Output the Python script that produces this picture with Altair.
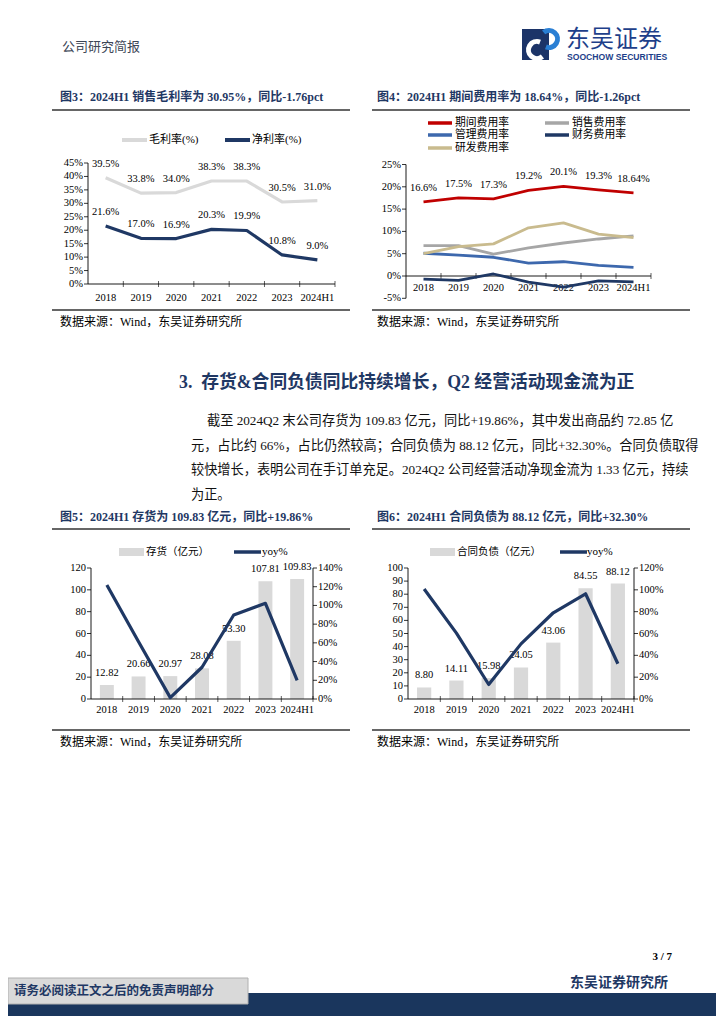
import altair as alt
import pandas as pd

OX, OY = 8, 8  # page margin
SERIF = "Liberation Serif, Noto Sans CJK SC"
NAVY = "#1f3864"

cats = ["2018", "2019", "2020", "2021", "2022", "2023", "2024H1"]

# Fig 3
gross_margin = [39.5, 33.8, 34.0, 38.3, 38.3, 30.5, 31.0]
net_margin = [21.6, 17.0, 16.9, 20.3, 19.9, 10.8, 9.0]
fig3_ticks = [0, 5, 10, 15, 20, 25, 30, 35, 40, 45]

# Fig 4
period_rate = [16.6, 17.5, 17.3, 19.2, 20.1, 19.3, 18.64]
sales_rate = [6.8, 6.8, 4.9, 6.3, 7.4, 8.3, 9.0]
admin_rate = [5.1, 4.7, 4.2, 2.9, 3.2, 2.4, 1.95]
fin_rate = [-0.7, -1.0, 0.45, -1.35, -2.5, -1.1, -1.3]
rd_rate = [5.0, 6.6, 7.2, 10.8, 11.9, 9.4, 8.6]
fig4_ticks = [-5, 0, 5, 10, 15, 20, 25]

# Fig 5
inventory = [12.82, 20.66, 20.97, 28.08, 53.30, 107.81, 109.83]
inventory_yoy = [121.8, 61.2, 1.5, 33.9, 89.8, 102.3, 19.86]
fig5_left_ticks = [0, 20, 40, 60, 80, 100, 120]
fig5_right_ticks = [0, 20, 40, 60, 80, 100, 120, 140]

# Fig 6
contract_liab = [8.80, 14.11, 15.98, 24.05, 43.06, 84.55, 88.12]
contract_yoy = [100.8, 60.3, 13.3, 50.5, 79.0, 96.4, 32.30]
fig6_left_ticks = [0, 10, 20, 30, 40, 50, 60, 70, 80, 90, 100]
fig6_right_ticks = [0, 20, 40, 60, 80, 100, 120]

paragraph = [
    "截至 2024Q2 末公司存货为 109.83 亿元，同比+19.86%，其中发出商品约 72.85 亿",
    "元，占比约 66%，占比仍然较高；合同负债为 88.12 亿元，同比+32.30%。合同负债取得",
    "较快增长，表明公司在手订单充足。2024Q2 公司经营活动净现金流为 1.33 亿元，持续",
    "为正。",
]

ONE = pd.DataFrame({"a": [0]})
layers = []


def px(x):
    return x - OX


def py(y):
    return y - OY


def T(s, x, y, size=12, color="#000000", bold=False, align="left", font=SERIF):
    layers.append(
        alt.Chart(pd.DataFrame({"t": [s]}))
        .mark_text(align=align, baseline="middle", fontSize=size, color=color,
                   fontWeight="bold" if bold else "normal", font=font)
        .encode(x=alt.value(px(x)), y=alt.value(py(y)), text="t:N")
    )


def R(x1, y1, x2, y2, color="#000000", w=1.0):
    layers.append(
        alt.Chart(ONE).mark_rule(color=color, strokeWidth=w)
        .encode(x=alt.value(px(x1)), y=alt.value(py(y1)),
                x2=alt.value(px(x2)), y2=alt.value(py(y2)))
    )


def B(x1, y1, x2, y2, fill, stroke=None, sw=0):
    kw = dict(color=fill)
    if stroke:
        kw.update(stroke=stroke, strokeWidth=sw)
    layers.append(
        alt.Chart(ONE).mark_rect(**kw)
        .encode(x=alt.value(px(x1)), y=alt.value(py(y1)),
                x2=alt.value(px(x2)), y2=alt.value(py(y2)))
    )


def xpoint(x0, x1):
    return alt.Scale(type="point", domain=cats, range=[px(x0), px(x1)], padding=0.5)


def xband(x0, x1, pi=0.56):
    return alt.Scale(type="band", domain=cats, range=[px(x0), px(x1)],
                     paddingInner=pi, paddingOuter=pi / 2)


def xbound(x0, x1):
    return alt.Scale(type="band", domain=cats, range=[px(x0), px(x1)],
                     paddingInner=0, paddingOuter=0)


def yscale(d0, d1, y0, y1):
    return alt.Scale(domain=[d0, d1], range=[py(y0), py(y1)], nice=False, zero=False)


def line(df, field, xs, ys, color, w=3.0):
    layers.append(
        alt.Chart(df).mark_line(color=color, strokeWidth=w, strokeJoin="round")
        .encode(x=alt.X("cat:N", scale=xs, axis=None),
                y=alt.Y(f"{field}:Q", scale=ys, axis=None))
    )


def labels(df, field, lbl, xs, ys, dy=-13, size=10.5):
    layers.append(
        alt.Chart(df).mark_text(dy=dy, fontSize=size, font=SERIF, color="#000000",
                                baseline="middle")
        .encode(x=alt.X("cat:N", scale=xs, axis=None),
                y=alt.Y(f"{field}:Q", scale=ys, axis=None),
                text=f"{lbl}:N")
    )


def y_axis(ticks, ys, xaxis, side, suffix, fmt_size=10.5):
    d = pd.DataFrame({"v": ticks, "l": [f"{t}{suffix}" for t in ticks]})
    if side == "left":
        tx1, tx2, lx, al = xaxis - 4, xaxis, xaxis - 5, "right"
    else:
        tx1, tx2, lx, al = xaxis, xaxis + 4, xaxis + 5, "left"
    layers.append(
        alt.Chart(d).mark_rule(color="#000000", strokeWidth=0.8)
        .encode(y=alt.Y("v:Q", scale=ys, axis=None),
                x=alt.value(px(tx1)), x2=alt.value(px(tx2)))
    )
    layers.append(
        alt.Chart(d).mark_text(align=al, baseline="middle", fontSize=fmt_size,
                               font=SERIF, color="#000000")
        .encode(y=alt.Y("v:Q", scale=ys, axis=None), x=alt.value(px(lx)), text="l:N")
    )
    layers.append(
        alt.Chart(pd.DataFrame({"v": [ticks[0], ticks[-1]]}))
        .mark_line(color="#000000", strokeWidth=0.9)
        .encode(y=alt.Y("v:Q", scale=ys, axis=None), x=alt.value(px(xaxis)))
    )


def x_axis(xs_bound, xs_pt, x0, x1, yline_scale, yval, ylabel, size=10.5):
    layers.append(
        alt.Chart(pd.DataFrame({"v": [yval]})).mark_rule(color="#000000", strokeWidth=0.9)
        .encode(y=alt.Y("v:Q", scale=yline_scale, axis=None),
                x=alt.value(px(x0)), x2=alt.value(px(x1)))
    )
    d = pd.DataFrame({"cat": cats, "v": [yval] * len(cats)})
    layers.append(
        alt.Chart(d).mark_tick(color="#000000", thickness=0.9, size=6, orient="vertical")
        .encode(x=alt.X("cat:N", scale=xs_bound, axis=None, bandPosition=1),
                y=alt.Y("v:Q", scale=yline_scale, axis=None))
    )
    layers.append(
        alt.Chart(pd.DataFrame({"cat": cats})).mark_text(baseline="middle", fontSize=size,
                                                         font=SERIF, color="#000000")
        .encode(x=alt.X("cat:N", scale=xs_pt, axis=None), y=alt.value(py(ylabel)), text="cat:N")
    )


# ---------------- Header ----------------
T("公司研究简报", 62, 47, size=13, color="#3c4656")
B(522, 29, 549, 60, "#1c3468")
layers.append(alt.Chart(ONE).mark_arc(color="#2a7fd4", radius=11, radius2=6, theta=5.6, theta2=9.8)
              .encode(x=alt.value(px(549)), y=alt.value(py(39))))
layers.append(alt.Chart(ONE).mark_arc(color="#ffffff", radius=11, radius2=6, theta=2.45, theta2=6.65)
              .encode(x=alt.value(px(537)), y=alt.value(py(50))))
T("东吴证券", 566, 40, size=24, color="#1e3f8a", font="Noto Sans CJK SC")
T("SOOCHOW SECURITIES", 567, 57, size=8.6, color="#1e3f8a", bold=True, font="Liberation Sans")

# ---------------- Figure titles (top row) ----------------
T("图3：2024H1 销售毛利率为 30.95%，同比-1.76pct", 60, 97, size=12, color=NAVY, bold=True)
T("图4：2024H1 期间费用率为 18.64%，同比-1.26pct", 377, 97, size=12, color=NAVY, bold=True)
R(52, 110, 350, 110, "#333333", 1.5)
R(372, 110, 690, 110, "#333333", 1.5)

# ---------------- Figure 3 ----------------
X3 = xpoint(88, 335)
XB3 = xbound(88, 335)
Y3 = yscale(0, 45, 284, 163)
df3 = pd.DataFrame({"cat": cats, "gross": gross_margin, "net": net_margin,
                    "gl": [f"{v:.1f}%" for v in gross_margin],
                    "nl": [f"{v:.1f}%" for v in net_margin]})
R(122, 140, 147, 140, "#d9d9d9", 4)
T("毛利率(%)", 149, 140, size=11)
R(225, 140, 250, 140, NAVY, 4)
T("净利率(%)", 252, 140, size=11)
y_axis(fig3_ticks, Y3, 88, "left", "%")
x_axis(XB3, X3, 88, 335, Y3, 0, 298)
line(df3, "gross", X3, Y3, "#d9d9d9", 3.2)
line(df3, "net", X3, Y3, NAVY, 3.2)
labels(df3, "gross", "gl", X3, Y3, dy=-14)
labels(df3, "net", "nl", X3, Y3, dy=-14)
R(52, 310, 350, 310, "#333333", 1.5)
T("数据来源：Wind，东吴证券研究所", 60, 322, size=12)

# ---------------- Figure 4 ----------------
X4 = xpoint(406, 651)
XB4 = xbound(406, 651)
Y4 = yscale(-5, 25, 298.3, 164.5)
df4 = pd.DataFrame({"cat": cats, "period": period_rate, "sales": sales_rate,
                    "admin": admin_rate, "fin": fin_rate, "rd": rd_rate,
                    "pl": [f"{v}%" for v in period_rate]})
legend4 = [("期间费用率", "#c00000", 428, 123), ("销售费用率", "#a6a6a6", 545, 123),
           ("管理费用率", "#3d68ad", 428, 135), ("财务费用率", NAVY, 545, 135),
           ("研发费用率", "#c9bb8e", 428, 148)]
for name, col, lx, ly in legend4:
    R(lx, ly, lx + 24, ly, col, 3.5)
    T(name, lx + 27, ly, size=10.8)
y_axis(fig4_ticks, Y4, 406, "left", "%")
line(df4, "sales", X4, Y4, "#a6a6a6", 2.8)
line(df4, "admin", X4, Y4, "#3d68ad", 2.8)
line(df4, "rd", X4, Y4, "#c9bb8e", 2.8)
line(df4, "period", X4, Y4, "#c00000", 2.8)
x_axis(XB4, X4, 406, 651, Y4, 0, 288)
line(df4, "fin", X4, Y4, NAVY, 2.8)
labels(df4, "period", "pl", X4, Y4, dy=-14)
R(372, 310, 690, 310, "#333333", 1.5)
T("数据来源：Wind，东吴证券研究所", 377, 322, size=12)

# ---------------- Section text ----------------
T("3.\u00a0\u00a0存货&合同负债同比持续增长，Q2 经营活动现金流为正", 179, 383, size=17.8,
  color=NAVY, bold=True)
for i, s in enumerate(paragraph):
    T(s, 207 if i == 0 else 191, 421 + i * 24.7, size=13.2, color="#111111")

# ---------------- Bottom titles ----------------
T("图5：2024H1 存货为 109.83 亿元，同比+19.86%", 60, 517, size=12, color=NAVY, bold=True)
T("图6：2024H1 合同负债为 88.12 亿元，同比+32.30%", 377, 517, size=12, color=NAVY, bold=True)
R(52, 529, 350, 529, "#333333", 1.5)
R(372, 529, 690, 529, "#333333", 1.5)


def bar_fig(values, yoy, left_ticks, right_ticks, x0, x1, bar_name, leg):
    XP = xpoint(x0, x1)
    XB = xband(x0, x1)
    XBD = xbound(x0, x1)
    YL = yscale(left_ticks[0], left_ticks[-1], 699, 568)
    YR = yscale(right_ticks[0], right_ticks[-1], 699, 568)
    df = pd.DataFrame({"cat": cats, "v": values, "y": yoy,
                       "vl": [f"{v:.2f}" for v in values]})
    rx0, tx, lx0, ltx = leg
    B(rx0, 548, rx0 + 25, 556, "#d9d9d9")
    T(bar_name, tx, 552, size=10.5)
    R(lx0, 552, lx0 + 27, 552, NAVY, 3.5)
    T("yoy%", ltx, 552, size=11)
    layers.append(
        alt.Chart(df).mark_bar(color="#d9d9d9")
        .encode(x=alt.X("cat:N", scale=XB, axis=None),
                y=alt.Y("v:Q", scale=YL, axis=None))
    )
    labels(df, "v", "vl", XP, YL, dy=-12)
    y_axis(left_ticks, YL, x0, "left", "")
    y_axis(right_ticks, YR, x1, "right", "%")
    x_axis(XBD, XP, x0, x1, YL, 0, 710)
    line(df, "y", XP, YR, NAVY, 3.2)


bar_fig(inventory, inventory_yoy, fig5_left_ticks, fig5_right_ticks, 91, 313,
        "存货（亿元）", (119, 146, 234, 262))
bar_fig(contract_liab, contract_yoy, fig6_left_ticks, fig6_right_ticks, 408, 634,
        "合同负债（亿元）", (430, 457, 560, 587))

R(52, 730, 350, 730, "#333333", 1.5)
R(372, 730, 690, 730, "#333333", 1.5)
T("数据来源：Wind，东吴证券研究所", 60, 742, size=12)
T("数据来源：Wind，东吴证券研究所", 377, 742, size=12)

# ---------------- Footer ----------------
T("3 / 7", 672, 957, size=11, bold=True, align="right")
T("东吴证券研究所", 668, 983, size=14, color=NAVY, bold=True, align="right")
B(8, 993, 716, 1016, "#1a365d")
B(8, 978, 248, 1004, "#d9d9d9", "#b0b0b0", 1)
T("请务必阅读正文之后的免责声明部分", 14, 991, size=12.5, color=NAVY, bold=True)

chart = (
    alt.layer(*layers)
    .resolve_scale(x="independent", y="independent")
    .properties(width=708, height=1008, padding=0, autosize=alt.AutoSizeParams(type="none"))
    .configure_view(strokeWidth=0)
)

chart.save("out.html", embed_options={"renderer": "svg", "actions": False})
